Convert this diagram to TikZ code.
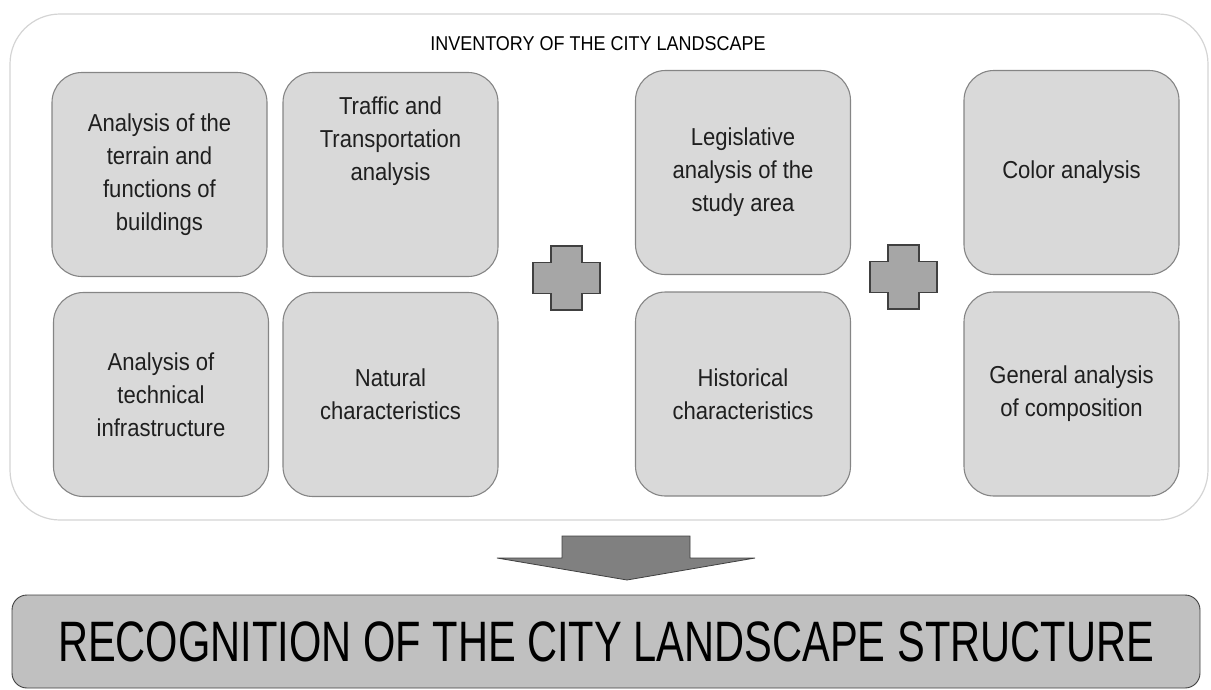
\documentclass[tikz,border=0pt]{standalone}
\usepackage{fontspec}
\setmainfont{Liberation Sans}
\newfontfamily\narrowfont[FakeStretch=0.9]{Liberation Sans}
\newfontfamily\bannerfont[FakeStretch=0.73]{Liberation Sans}
\usepackage{tikz}
\usetikzlibrary{positioning}

\definecolor{boxfill}{HTML}{D9D9D9}
\definecolor{boxline}{HTML}{858585}
\definecolor{framegray}{HTML}{D4D4D4}
\definecolor{plusfill}{HTML}{A6A6A6}
\definecolor{arrowfill}{HTML}{808080}
\definecolor{bannerfill}{HTML}{C0C0C0}
\definecolor{darkline}{HTML}{404040}

\begin{document}
\begin{tikzpicture}[x=1pt,y=-1pt,
                    panel/.style={rectangle,rounded corners=30pt,draw=boxline,fill=boxfill,
                      line width=1.1pt,minimum width=215pt,minimum height=204pt,inner sep=0pt,
                      align=center,font=\narrowfont\fontsize{24.5}{33}\selectfont,text=black!88}]

  \tikzstyle{plus}=[draw=darkline,fill=plusfill,line width=1.3pt]
  \tikzstyle{downarrow}=[draw=darkline,fill=arrowfill,line width=0.8pt]

  \useasboundingbox (0,0) rectangle (1211,689);

  % outer frame and its title
  \node[draw=framegray,line width=1.2pt,rounded corners=50pt,
        minimum width=1198pt,minimum height=506pt] (frame) at (609,267) {};
  \node[font=\narrowfont\fontsize{20}{24}\selectfont] (title) at (598,44)
       {INVENTORY OF THE CITY LANDSCAPE};

  % first group
  \node[panel] (terrain)   at (159.5,174.5) {Analysis of the\\terrain and\\functions of\\buildings};
  \node[panel] (traffic)   at (390.5,174.5) {};
  \node[align=center,font=\narrowfont\fontsize{24.5}{33}\selectfont,text=black!88]
       (traffictext) at ([yshift=33pt]traffic.center) {Traffic and\\Transportation\\analysis};
  \node[panel] (technical) at (161,394.5)   {Analysis of\\technical\\infrastructure};
  \node[panel] (natural)   at (390.5,394.5) {Natural\\characteristics};

  % second group
  \node[panel] (legal)      at (743,172.5) {Legislative\\analysis of the\\study area};
  \node[panel] (historical) at (743,394)   {Historical\\characteristics};

  % third group
  \node[panel] (color)       at (1071.5,172.5) {Color analysis};
  \node[panel] (composition) at (1071.5,394)   {General analysis\\of composition};

  % plus signs between the groups
  \foreach \px/\py in {566.5/278, 903.5/277}
    \draw[plus,shift={(\px,\py)}] (-15.5,-32) -| (15.5,-15.5) -| (33.5,15.5) -| (15.5,32)
         -| (-15.5,15.5) -| (-33.5,-15.5) -| (-15.5,-32) -- cycle;

  % arrow down to the result
  \draw[downarrow] (562,536) -- (690,536) -- (690,558) -- (755,558) -- (627,580)
       -- (497,558) -- (562,558) -- cycle;

  \node[draw=darkline,fill=bannerfill,line width=0.9pt,rounded corners=15pt,
        minimum width=1188pt,minimum height=93pt,
        font=\bannerfont\fontsize{57}{64}\selectfont] (result) at (606,641.5)
       {RECOGNITION OF THE CITY LANDSCAPE STRUCTURE};
\end{tikzpicture}
\end{document}
